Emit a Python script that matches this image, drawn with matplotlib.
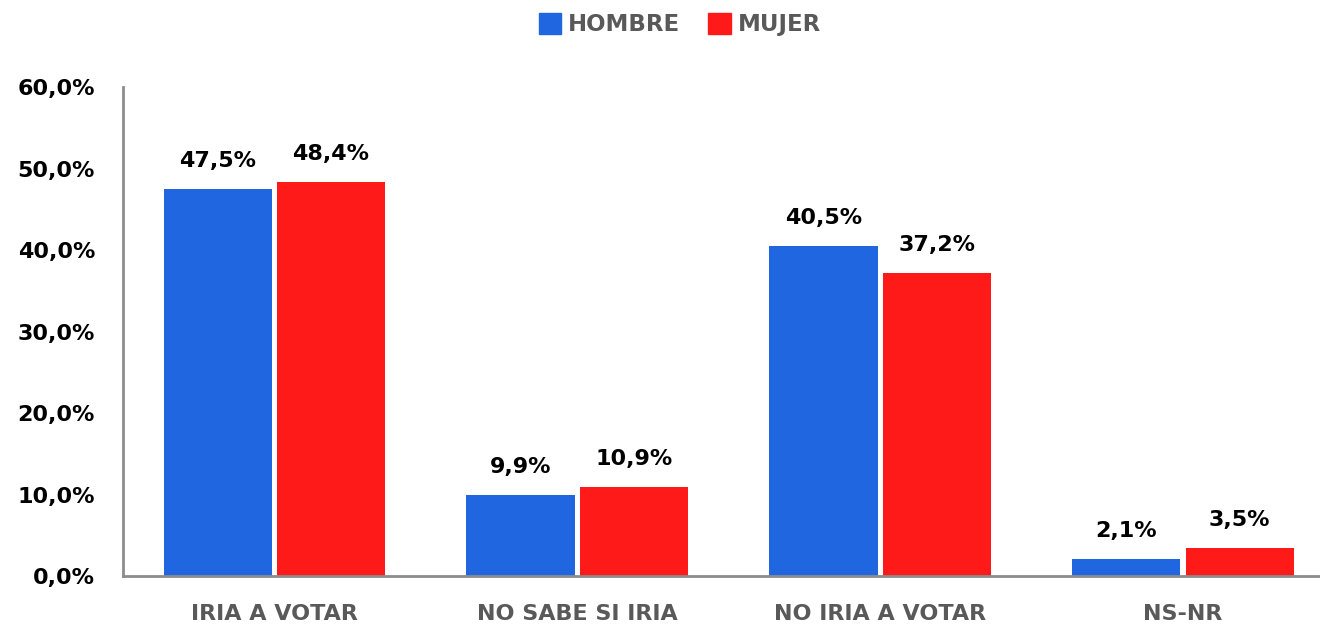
import numpy as np
import matplotlib
matplotlib.use("Agg")
import matplotlib.pyplot as plt
from matplotlib.patches import Patch

# Data
categories = ["IRIA A VOTAR", "NO SABE SI IRIA", "NO IRIA A VOTAR", "NS-NR"]
hombre = [47.5, 9.9, 40.5, 2.1]
mujer = [48.4, 10.9, 37.2, 3.5]
yticks = [0, 10, 20, 30, 40, 50, 60]

blue = "#1F66E0"
red = "#FF1A1A"
gray = "#595959"

plt.rcParams["font.family"] = ["DejaVu Sans"]
plt.rcParams["font.weight"] = "bold"

fig = plt.figure(figsize=(13.2, 6.31), dpi=100)
ax = fig.add_axes([0.093, 0.087, 0.918, 0.775])

x = np.arange(len(categories))
w = 0.357
off = 0.187
b1 = ax.bar(x - off, hombre, w, color=blue, label="HOMBRE")
b2 = ax.bar(x + off, mujer, w, color=red, label="MUJER")

for bars, vals in [(b1, hombre), (b2, mujer)]:
    for b, v in zip(bars, vals):
        ax.annotate(f"{v:.1f}%".replace(".", ","),
                    (b.get_x() + b.get_width() / 2, b.get_height()),
                    xytext=(0, 13), textcoords="offset points",
                    ha="center", va="bottom", fontsize=16,
                    fontweight="bold", color="black")

ax.set_xlim(-0.5, 3.5)
ax.set_ylim(0, 60)
ax.set_yticks(yticks)
ax.set_yticklabels([f"{t:.1f}%".replace(".", ",") for t in yticks],
                   fontsize=16, fontweight="bold", color="black")
ax.set_xticks(x)
ax.set_xticklabels(categories, fontsize=16, fontweight="bold", color=gray)
ax.tick_params(axis="both", length=0)
ax.tick_params(axis="y", pad=20)
ax.tick_params(axis="x", pad=20)

for s in ["top", "right"]:
    ax.spines[s].set_visible(False)
for s in ["left", "bottom"]:
    ax.spines[s].set_color("#8C8C8C")
    ax.spines[s].set_linewidth(2)

handles = [Patch(color=blue, label="HOMBRE"), Patch(color=red, label="MUJER")]
fig.legend(handles=handles, loc="upper center", bbox_to_anchor=(0.515, 1.012),
           ncol=2, frameon=False, handlelength=1.0, handleheight=1.0,
           handletextpad=0.3, columnspacing=1.2,
           prop={"size": 16.5, "weight": "bold"}, labelcolor=gray)

fig.savefig("out.png", dpi=100)
